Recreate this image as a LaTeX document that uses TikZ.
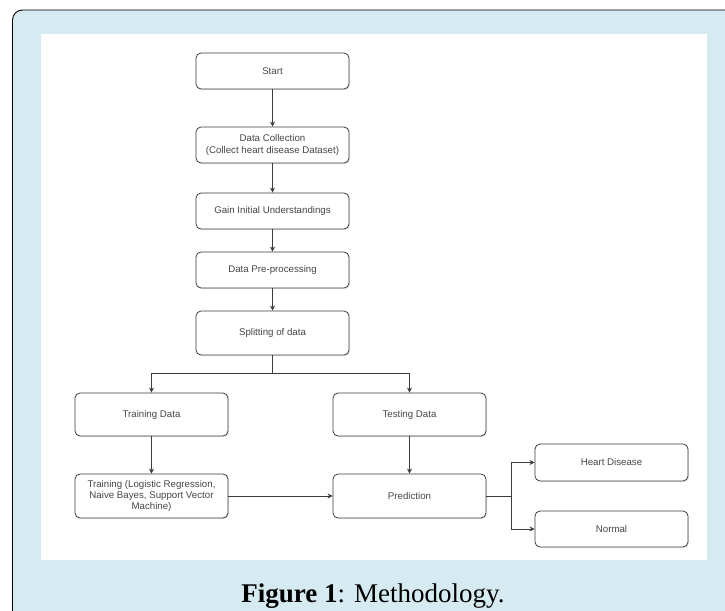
\documentclass[tikz,border=0pt]{standalone}
\usepackage{fontspec}
\setmainfont{Liberation Serif}
\newfontfamily\boxfont{Liberation Sans}
\usetikzlibrary{arrows.meta,shadows}
\definecolor{framebg}{RGB}{214,235,241}
\definecolor{boxline}{RGB}{60,60,60}
\definecolor{boxtext}{RGB}{70,70,70}
\tikzset{
  flowbox/.style={draw=boxline, line width=0.8pt, rounded corners=5pt, fill=white,
    minimum width=153pt, align=center, inner sep=2pt,
    font=\boxfont\fontsize{9.7}{11.5}\selectfont, text=boxtext,
    drop shadow={opacity=0.18, shadow xshift=1pt, shadow yshift=-1.2pt}},
  conn/.style={draw=boxline, line width=0.8pt, -{Stealth[length=5pt,width=5pt]}},
  plainconn/.style={draw=boxline, line width=0.8pt}
}
\begin{document}
\begin{tikzpicture}[x=1pt,y=-1pt]
\useasboundingbox (0,0) rectangle (725,610);
\clip (0,0) rectangle (725,610);
% frame
\draw[fill=framebg, draw=black, line width=0.9pt, rounded corners=10pt] (12.5,10) rectangle (760,640);
\fill[white] (41,34) rectangle (707,560);

% nodes
\node[flowbox, minimum height=36pt] (start) at (272.5,71) {Start};
\node[flowbox, minimum height=36pt] (collect) at (272.5,145) {Data Collection\\(Collect heart disease Dataset)};
\node[flowbox, minimum height=36pt] (gain) at (272.5,211) {Gain Initial Understandings};
\node[flowbox, minimum height=36pt] (pre) at (272.5,270) {Data Pre-processing};
\node[flowbox, minimum height=44pt] (split) at (272.5,333) {Splitting of data};
\node[flowbox, minimum height=43pt] (trainD) at (151.5,414.5) {Training Data};
\node[flowbox, minimum height=43pt] (testD) at (409.5,414.5) {Testing Data};
\node[flowbox, minimum height=44pt, font=\boxfont\fontsize{9.7}{10.6}\selectfont] (train) at (151.5,496) {Training (Logistic Regression,\\Naive Bayes, Support Vector\\Machine)};
\node[flowbox, minimum height=44pt] (pred) at (409.5,496) {Prediction};
\node[flowbox, minimum height=37pt] (heart) at (611.5,462.5) {Heart Disease};
\node[flowbox, minimum height=36pt] (normal) at (611.5,529) {Normal};

% connectors
\draw[conn] (start) -- (collect);
\draw[conn] (collect) -- (gain);
\draw[conn] (gain) -- (pre);
\draw[conn] (pre) -- (split);
\coordinate (splitj) at (272.5,373);
\draw[plainconn] (split.south) -- (splitj);
\draw[conn] (splitj) -| (trainD.north);
\draw[conn] (splitj) -| (testD.north);
\draw[conn] (trainD) -- (train);
\draw[conn] (testD) -- (pred);
\draw[conn] (train) -- (pred);
\coordinate (predj) at (511,496);
\draw[plainconn] (pred.east) -- (predj);
\draw[conn] (predj) |- (heart.west);
\draw[conn] (predj) |- (normal.west);

% caption
\node[font=\fontsize{27}{30}\selectfont, anchor=base] (cap) at (373,602) {\textbf{Figure 1}: Methodology.};
\end{tikzpicture}
\end{document}
